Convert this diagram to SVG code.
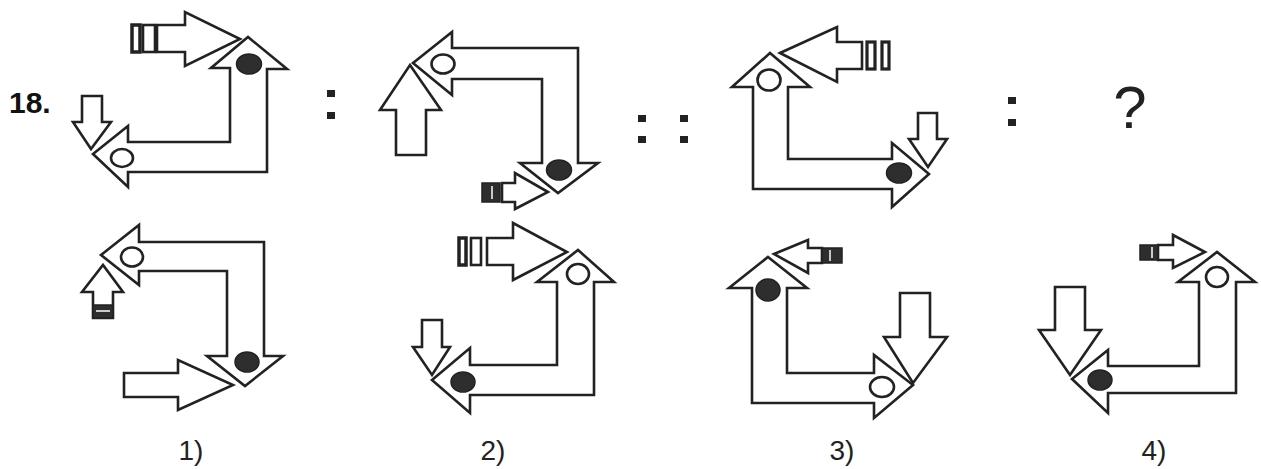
<svg xmlns="http://www.w3.org/2000/svg" width="1261" height="469" viewBox="0 0 1261 469">
<style>
.a{fill:#fff;stroke:#222;stroke-width:2.6;stroke-linejoin:miter}
.h{fill:#fff;stroke:#222;stroke-width:2.6}
.f{fill:#2e2e2e;stroke:#222;stroke-width:1.5}
.t{fill:#2e2e2e;stroke:#222;stroke-width:1.5}
.w{stroke:#fff;stroke-width:1.5}
.d{fill:#222}
.lbl{font-family:"Liberation Sans",Arial,sans-serif;font-size:28px;fill:#222;text-anchor:middle}
</style>
<rect width="1261" height="469" fill="#fff"/>
<text x="9" y="113" font-family="Liberation Sans, Arial, sans-serif" font-size="30" font-weight="bold" fill="#111">18.</text>

<g id="q1">
<polygon class="a" points="93,154 128,126 128,142 230,142 230,68 211,68 248,37 287,69 267,69 267,172 128,172 128,187"/>
<ellipse class="h" cx="122" cy="158" rx="11" ry="9"/>
<ellipse class="f" cx="249" cy="64" rx="12.5" ry="10"/>
<polygon class="a" points="157,25 185,25 185,12 240,39 185,66 185,52 157,52"/>
<rect class="a" x="132" y="25" width="8" height="27" style="stroke-width:3.5"/>
<rect class="a" x="143" y="25" width="12" height="27"/>
<polygon class="a" points="82,96 102,96 102,122 111,122 91,149 73,122 82,122"/>
</g>

<g id="colon1"><rect class="d" x="327" y="90" width="8" height="7"/><rect class="d" x="327" y="112" width="8" height="7"/></g>

<g id="q2">
<polygon class="a" points="413,63 452,32 452,48 578,48 578,163 598,163 558,193 520,163 542,163 542,79 452,79 452,95"/>
<ellipse class="h" cx="443" cy="64" rx="11.5" ry="9.5"/>
<ellipse class="f" cx="559" cy="170" rx="12.5" ry="10"/>
<polygon class="a" points="396,155 396,110 380,110 410,65 441,110 426,110 426,155"/>
<polygon class="a" points="502,183 515,183 515,173 548,192 515,209 515,202 502,202"/>
<rect class="t" x="482" y="183" width="18" height="19"/>
<line class="w" x1="492" y1="186" x2="492" y2="199"/>
</g>

<g id="colon2"><rect class="d" x="638" y="115" width="8" height="7"/><rect class="d" x="638" y="136" width="8" height="7"/><rect class="d" x="680" y="115" width="8" height="7"/><rect class="d" x="680" y="136" width="8" height="7"/></g>

<g id="q3">
<polygon class="a" points="770,53 810,87 788,87 788,159 892,159 892,143 929,174 892,207 892,189 753,189 753,87 732,87"/>
<ellipse class="h" cx="769" cy="80" rx="11.5" ry="10.5"/>
<ellipse class="f" cx="899" cy="173" rx="12.5" ry="10"/>
<polygon class="a" points="780,53 837,27 837,42 862,42 862,69 837,69 837,82"/>
<rect class="a" x="867" y="42" width="8" height="27" style="stroke-width:3.2"/>
<rect class="a" x="882" y="42" width="7" height="27" style="stroke-width:3.2"/>
<polygon class="a" points="918,113 937,113 937,139 947,139 928,167 909,139 918,139"/>
</g>

<g id="colon3"><rect class="d" x="1008" y="97" width="8" height="7"/><rect class="d" x="1008" y="119" width="8" height="7"/></g>
<text x="1130" y="128" font-family="Liberation Sans, Arial, sans-serif" font-size="60" fill="#222" text-anchor="middle">?</text>

<g id="opt1">
<polygon class="a" points="101,255 139,225 139,242 264,242 264,356 283,356 245,386 207,356 227,356 227,271 139,271 139,285"/>
<ellipse class="h" cx="132" cy="257" rx="11" ry="9.5"/>
<ellipse class="f" cx="247" cy="362" rx="12" ry="10"/>
<polygon class="a" points="93,318 93,292 82,292 103,265 123,292 113,292 113,318"/>
<rect class="t" x="93" y="305" width="20" height="13"/>
<line class="w" x1="96" y1="311" x2="110" y2="311"/>
<polygon class="a" points="124,373 178,373 178,360 233,385 178,410 178,397 124,397"/>
<text class="lbl" x="191" y="460">1)</text>
</g>

<g id="opt2">
<polygon class="a" points="432,380 470,348 470,365 557,365 557,282 537,282 578,250 614,282 594,282 594,395 470,395 470,413"/>
<ellipse class="h" cx="578" cy="274" rx="11" ry="10"/>
<ellipse class="f" cx="463" cy="382" rx="12" ry="10"/>
<polygon class="a" points="487,238 513,238 513,223 567,252 513,280 513,265 487,265"/>
<rect class="a" x="459" y="238" width="7" height="27" style="stroke-width:3.5"/>
<rect class="a" x="471" y="238" width="10" height="27"/>
<polygon class="a" points="422,320 442,320 442,347 450,347 432,375 413,347 422,347"/>
<text class="lbl" x="493" y="460">2)</text>
</g>

<g id="opt3">
<polygon class="a" points="768,257 807,288 787,288 787,373 874,373 874,355 913,385 874,418 874,403 752,403 752,288 729,288"/>
<ellipse class="f" cx="768" cy="290" rx="12" ry="11"/>
<ellipse class="h" cx="882" cy="387" rx="12" ry="10"/>
<polygon class="a" points="774,254 808,240 808,248 822,248 822,263 808,263 808,273"/>
<rect class="t" x="822" y="248" width="20" height="15"/>
<line class="w" x1="830" y1="250" x2="830" y2="261"/>
<polygon class="a" points="900,293 930,293 930,337 947,337 913,383 884,337 900,337"/>
<text class="lbl" x="842" y="460">3)</text>
</g>

<g id="opt4">
<polygon class="a" points="1072,379 1108,350 1108,366 1199,366 1199,282 1178,282 1217,252 1255,282 1236,282 1236,393 1108,393 1108,413"/>
<ellipse class="h" cx="1217" cy="277" rx="11" ry="10"/>
<ellipse class="f" cx="1100" cy="380" rx="12" ry="10"/>
<polygon class="a" points="1158,245 1173,245 1173,235 1205,252 1173,268 1173,260 1158,260"/>
<rect class="t" x="1140" y="245" width="18" height="15"/>
<line class="w" x1="1152" y1="247" x2="1152" y2="258"/>
<polygon class="a" points="1055,287 1085,287 1085,330 1101,330 1070,375 1039,330 1055,330"/>
<text class="lbl" x="1154" y="460">4)</text>
</g>
</svg>
